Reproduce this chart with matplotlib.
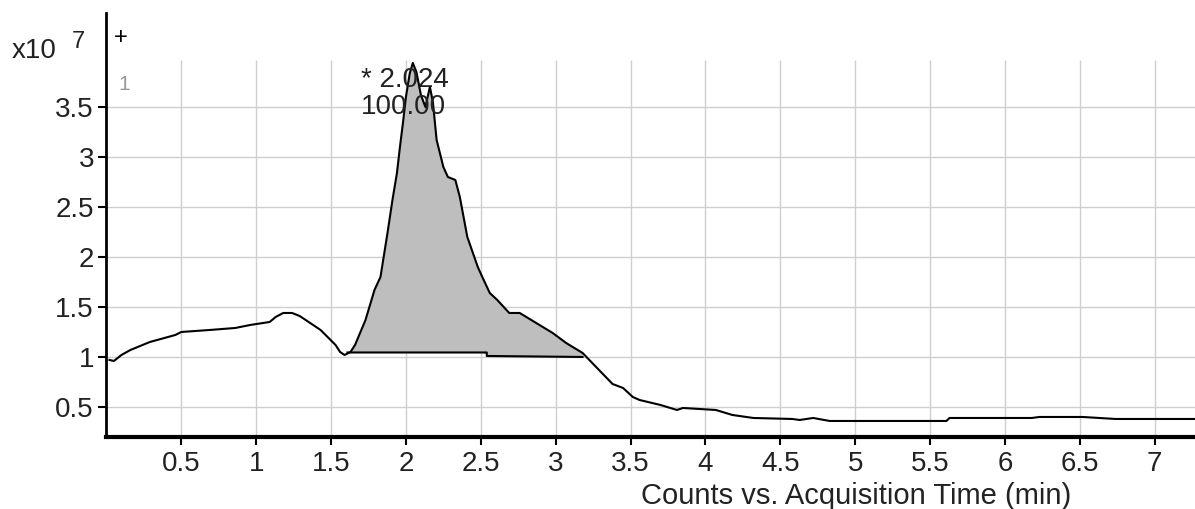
import numpy as np
import matplotlib.pyplot as plt

plt.rcParams['font.family'] = ['Liberation Sans', 'DejaVu Sans']

# chromatogram trace (time in min, counts x10^7)
time = [0.02, 0.05, 0.10, 0.16, 0.29, 0.46, 0.50, 0.69, 0.86, 0.96, 1.09, 1.13,
        1.18, 1.24, 1.29, 1.43, 1.53, 1.56, 1.59, 1.63, 1.66, 1.73, 1.79, 1.83,
        1.88, 1.91, 1.94, 1.96, 1.98, 2.00, 2.026, 2.046, 2.07, 2.10, 2.13, 2.16,
        2.18, 2.205, 2.25, 2.28, 2.33, 2.36, 2.41, 2.48, 2.51, 2.56, 2.61, 2.69,
        2.76, 2.87, 2.98, 3.07, 3.18, 3.27, 3.38, 3.45, 3.515, 3.56, 3.70, 3.81,
        3.85, 4.07, 4.18, 4.32, 4.58, 4.63, 4.72, 4.83, 5.61, 5.63, 6.18, 6.23,
        6.52, 6.74, 6.76, 7.27]
counts = [0.97, 0.96, 1.02, 1.07, 1.15, 1.22, 1.25, 1.27, 1.29, 1.32, 1.35, 1.40,
          1.44, 1.44, 1.41, 1.27, 1.12, 1.05, 1.02, 1.05, 1.12, 1.37, 1.67, 1.80,
          2.27, 2.57, 2.84, 3.10, 3.34, 3.60, 3.84, 3.94, 3.85, 3.62, 3.50, 3.70,
          3.55, 3.17, 2.90, 2.80, 2.77, 2.60, 2.20, 1.90, 1.80, 1.64, 1.57, 1.44,
          1.44, 1.34, 1.24, 1.14, 1.04, 0.90, 0.73, 0.69, 0.60, 0.57, 0.52, 0.47,
          0.49, 0.47, 0.42, 0.39, 0.38, 0.37, 0.39, 0.36, 0.36, 0.39, 0.39, 0.40,
          0.40, 0.38, 0.38, 0.38]

# integration baseline of the peak
base_t = [1.61, 2.54, 2.54, 3.18]
base_c = [1.045, 1.045, 1.01, 1.00]

peak_label = '* 2.024\n100.00'
xticks = [0.5, 1, 1.5, 2, 2.5, 3, 3.5, 4, 4.5, 5, 5.5, 6, 6.5, 7]
yticks = [0.5, 1, 1.5, 2, 2.5, 3, 3.5]

fig = plt.figure(figsize=(11.95, 5.09), dpi=100)
ax = fig.add_axes([0.0891, 0.1415, 0.9109, 0.8330])
ax.set_xlim(0, 7.27)
ax.set_ylim(0.2, 4.44)

# grid
for yv in yticks:
    ax.axhline(yv, color='#cfcfcf', lw=1, zorder=0)
ax.vlines(xticks, 0.2, 3.97, color='#cfcfcf', lw=1, zorder=0)

# shaded peak area
t = np.array(time)
c = np.array(counts)
sel = (t >= base_t[0]) & (t <= base_t[-1])
tf = np.concatenate([[base_t[0]], t[sel], [base_t[-1]]])
cf = np.concatenate([[base_c[0]], c[sel], [base_c[-1]]])
bf = np.interp(tf, [1.61, 2.539, 2.541, 3.18], base_c)
ax.fill_between(tf, bf, cf, color='#bebebe', lw=0, zorder=1)
ax.plot(base_t, base_c, color='black', lw=1.5, zorder=2)
ax.plot(time, counts, color='black', lw=1.5, zorder=3)

ax.text(1.70, 3.90, peak_label, fontsize=20, va='top', ha='left',
        color='#222222', linespacing=1.05, zorder=4)

ax.set_xticks(xticks)
ax.set_xticklabels([f'{v:g}' for v in xticks])
ax.set_yticks(yticks)
ax.set_yticklabels([f'{v:g}' for v in yticks])
ax.tick_params(axis='both', direction='out', length=6, width=1.5,
               labelsize=20, colors='black', labelcolor='#222222')
ax.tick_params(axis='x', pad=4)
ax.tick_params(axis='y', pad=3)

for s in ['top', 'right']:
    ax.spines[s].set_visible(False)
ax.spines['left'].set_linewidth(2)
ax.spines['bottom'].set_linewidth(3)

fig.text(12 / 1195, 1 - 51 / 509, 'x10', fontsize=20, color='#222222',
         va='center', ha='left')
fig.text(72 / 1195, 1 - 42 / 509, '7', fontsize=17, color='#222222',
         va='center', ha='left')
fig.text(114 / 1195, 1 - 38 / 509, '+', fontsize=17, color='black',
         va='center', ha='left')
fig.text(118 / 1195, 1 - 84 / 509, '1', fontsize=15, color='#999999',
         va='center', ha='left')
fig.text(856 / 1195, 1 - 496 / 509, 'Counts vs. Acquisition Time (min)',
         fontsize=21, color='#222222', va='center', ha='center')

fig.savefig('out.png', dpi=100)
